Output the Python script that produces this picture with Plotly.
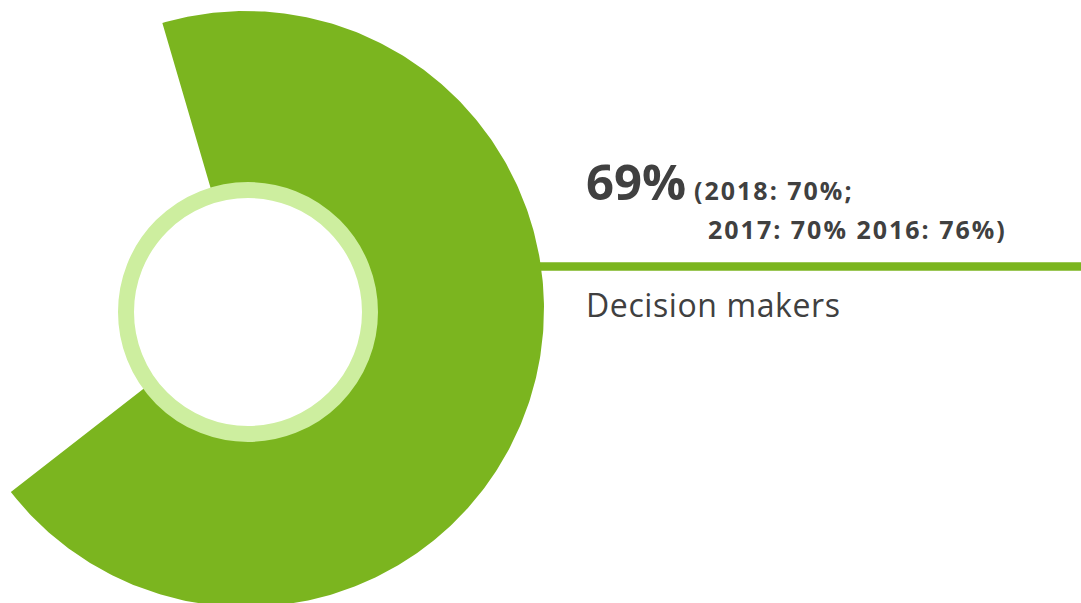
import numpy as np
import plotly.graph_objects as go

# Headline share and its history
label = "Decision makers"
share = 69
history_years = [2018, 2017, 2016]
history_values = [70, 70, 76]

GREEN = "#7bb51f"
LIGHT_GREEN = "#cdee9f"
TEXT = "#404040"

W, H = 1081, 603

# Sector geometry (pixel-like data coordinates, y grows downward)
cx, cy, r = 246, 309, 298
start_deg = -16.3  # compass angle where the slice begins (clockwise from 12 o'clock)
theta = np.radians(start_deg + np.linspace(0, share / 100 * 360, 400))
sx = np.concatenate([[cx], cx + r * np.sin(theta), [cx]])
sy = np.concatenate([[cy], cy - r * np.cos(theta), [cy]])

fig = go.Figure()
fig.add_trace(go.Scatter(
    x=sx, y=sy, mode="lines", fill="toself",
    fillcolor=GREEN, line=dict(width=0, color=GREEN),
    hoverinfo="skip", showlegend=False,
))

shapes = [
    # divider rule running out to the right edge
    dict(type="line", xref="x", yref="y", x0=400, x1=W, y0=266.5, y1=266.5,
         line=dict(color=GREEN, width=8.4), layer="below"),
    # light ring with white centre
    dict(type="circle", xref="x", yref="y",
         x0=248 - 122, x1=248 + 122, y0=312 - 122, y1=312 + 122,
         line=dict(color=LIGHT_GREEN, width=16), fillcolor="white", layer="above"),
]

hist = [f"{y}: {v}%" for y, v in zip(history_years, history_values)]
line1 = f"({hist[0]};"
line2 = f"{hist[1]} {hist[2]})"
sp = '<span style="letter-spacing:2px">{}</span>'

annotations = [
    dict(x=584, y=181, text=f"<b>{share}%</b>", font=dict(size=49)),
    dict(x=692, y=190, text="<b>" + sp.format(line1) + "</b>", font=dict(size=25)),
    dict(x=706, y=229, text="<b>" + sp.format(line2) + "</b>", font=dict(size=25)),
    dict(x=584, y=304, text='<span style="letter-spacing:0.6px">' + label + "</span>",
         font=dict(size=32)),
]
for a in annotations:
    a.update(xref="x", yref="y", xanchor="left", yanchor="middle", showarrow=False)
    a["font"].update(family="Open Sans", color=TEXT)

fig.update_layout(
    width=W, height=H,
    margin=dict(l=0, r=0, t=0, b=0),
    paper_bgcolor="white", plot_bgcolor="white",
    xaxis=dict(range=[0, W], visible=False, fixedrange=True),
    yaxis=dict(range=[H, 0], visible=False, fixedrange=True),
    shapes=shapes, annotations=annotations,
    showlegend=False,
)

fig.write_html("out.html", config={"displayModeBar": False})
